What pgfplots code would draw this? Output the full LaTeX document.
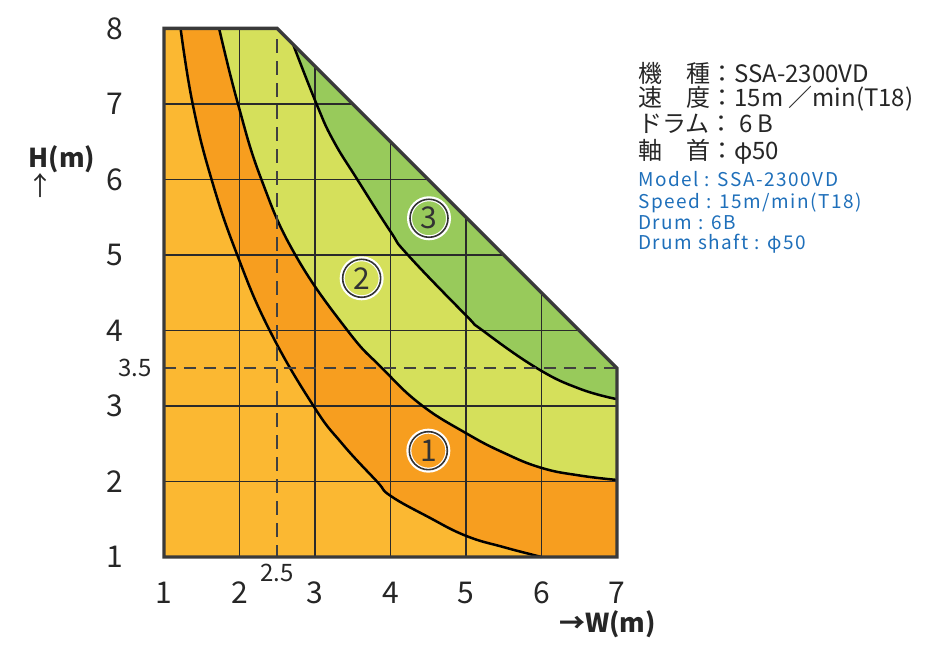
\documentclass[border=0pt]{standalone}
\usepackage{pgfplots}
\pgfplotsset{compat=1.18}
\usepackage{pgfplotstable}
\usepgfplotslibrary{fillbetween}
\usepackage{fontspec}
\setmainfont{Noto Sans CJK JP}
\newfontfamily\bluefont[LetterSpace=8]{Noto Sans CJK JP}
\definecolor{lorange}{HTML}{FBB832}
\definecolor{dorange}{HTML}{F79E1F}
\definecolor{ygreen}{HTML}{D5E05B}
\definecolor{green1}{HTML}{98CA5B}
\definecolor{gridc}{HTML}{2A2A2A}
\definecolor{outc}{HTML}{3A3A3A}
\definecolor{bluet}{HTML}{1E6FBA}

\pgfplotstableread{
x y
1.22 8
1.38 7
1.63 6
1.97 5
2.40 4
2.98 3
3.36 2.5
3.82 2.0
4.0 1.81
4.5 1.53
5.0 1.28
5.5 1.13
6.0 1.0
}\curveA
\pgfplotstableread{
x y
1.73 8
1.98 7
2.29 6
2.74 5
3.43 4
3.89 3.5
4.4 3.02
5.0 2.64
5.5 2.38
6.0 2.18
6.5 2.08
7.0 2.02
}\curveB
\pgfplotstableread{
x y
2.71 7.79
3.02 7.0
3.24 6.52
3.56 6.0
4.0 5.31
4.23 5.0
5.0 4.2
5.22 4.0
5.94 3.5
6.5 3.23
7.0 3.09
}\curveC

\begin{document}
\begin{tikzpicture}
\begin{axis}[
  set layers,
  scale only axis, width=226.5pt, height=264.25pt,
  xmin=1, xmax=7, ymin=1, ymax=8,
  clip=false, no markers,
  axis line style={draw=none},
  tick style={draw=none},
  xtick={1,...,7}, ytick={1,...,8},
  /pgf/number format/assume math mode=true,
  ticklabel style={font=\fontsize{15}{15}\selectfont, text=black!85},
  xticklabel style={anchor=center, yshift=-18pt},
  yticklabel style={anchor=center, xshift=-24.5pt},
]
% bounding box
\path (axis cs:-1.172,-0.046) rectangle (axis cs:11.397,8.377);

% base fill (below the fill-between layers)
\addplot[fill=lorange, draw=none, on layer=axis background] coordinates {(1,1)(1,8)(7,8)(7,1)} -- cycle;

% named paths
\addplot[name path=A, draw=none, smooth, tension=0.75] table {\curveA};
\addplot[name path=QA, draw=none] coordinates {(1.22,8)(7,8)(7,1)(6,1)};
\addplot[name path=B, draw=none, smooth, tension=0.75] table {\curveB};
\addplot[name path=QB, draw=none] coordinates {(1.73,8)(7,8)(7,2.02)};
\addplot[name path=C, draw=none, smooth, tension=0.75] table {\curveC};
\addplot[name path=QC, draw=none] coordinates {(2.71,7.79)(2.71,8)(7,8)(7,3.09)};

\addplot[dorange] fill between[of=A and QA, reverse=true];
\addplot[ygreen] fill between[of=B and QB, reverse=true];
\addplot[green1] fill between[of=C and QC, reverse=true];

% white outside the diagonal
\addplot[fill=white, draw=none] coordinates {(2.5,8.15)(2.5,8)(7,3.5)(7.15,3.5)(7.15,8.15)} -- cycle;

% grid
\addplot[gridc, line width=0.75pt] coordinates {(2,1)(2,8)};
\addplot[gridc, line width=0.75pt] coordinates {(3,1)(3,7.5)};
\addplot[gridc, line width=0.75pt] coordinates {(4,1)(4,6.5)};
\addplot[gridc, line width=0.75pt] coordinates {(5,1)(5,5.5)};
\addplot[gridc, line width=0.75pt] coordinates {(6,1)(6,4.5)};
\addplot[gridc, line width=0.75pt] coordinates {(1,2)(7,2)};
\addplot[gridc, line width=0.75pt] coordinates {(1,3)(7,3)};
\addplot[gridc, line width=0.75pt] coordinates {(1,4)(6.5,4)};
\addplot[gridc, line width=0.75pt] coordinates {(1,5)(5.5,5)};
\addplot[gridc, line width=0.75pt] coordinates {(1,6)(4.5,6)};
\addplot[gridc, line width=0.75pt] coordinates {(1,7)(3.5,7)};

% curves
\addplot[black, line width=1.25pt, smooth, tension=0.75] table {\curveA};
\addplot[black, line width=1.25pt, smooth, tension=0.75] table {\curveB};
\addplot[black, line width=1.25pt, smooth, tension=0.75] table {\curveC};

% dashed reference lines
\addplot[black!75, line width=0.8pt, dash pattern=on 6pt off 4pt] coordinates {(1,3.5)(7,3.5)};
\addplot[black!75, line width=0.8pt, dash pattern=on 7pt off 4pt] coordinates {(2.5,7.86)(2.5,1)};

% outline
\addplot[outc, line width=1.7pt, line join=miter] coordinates {(1,1)(1,8)(2.5,8)(7,3.5)(7,1)} -- cycle;

% extra labels
\node[font=\fontsize{12}{12}\selectfont, text=black!85] at (axis cs:0.616,3.5) {3.5};
\node[font=\fontsize{12}{12}\selectfont, text=black!85] at (axis cs:2.5,0.79) {2.5};
\node[font=\bfseries\fontsize{13}{13}\selectfont, text=black!85] at (axis cs:-0.351,6.27) {H(m)};
\node[font=\fontsize{13}{13}\selectfont, text=black!85] at (axis cs:-0.642,5.914) {↑};
\node[font=\bfseries\fontsize{13}{13}\selectfont, text=black!85] at (axis cs:6.874,0.113) {→W(m)};

% circled numbers
\node[circle, draw=white, line width=2.5pt, minimum size=19.5pt, inner sep=0pt] at (axis cs:4.501,2.408) {};
\node[circle, draw=black!80, line width=0.8pt, minimum size=19pt, inner sep=0pt, font=\fontsize{15}{15}\selectfont, text=black!80] at (axis cs:4.501,2.408) {1};
\node[circle, draw=white, line width=2.5pt, minimum size=19.5pt, inner sep=0pt] at (axis cs:3.618,4.691) {};
\node[circle, draw=black!80, line width=0.8pt, minimum size=19pt, inner sep=0pt, font=\fontsize{15}{15}\selectfont, text=black!80] at (axis cs:3.618,4.691) {2};
\node[circle, draw=white, line width=2.5pt, minimum size=19.5pt, inner sep=0pt] at (axis cs:4.51,5.486) {};
\node[circle, draw=black!80, line width=0.8pt, minimum size=19pt, inner sep=0pt, font=\fontsize{15}{15}\selectfont, text=black!80] at (axis cs:4.51,5.486) {3};

% spec text
\node[anchor=base west, inner sep=0pt, font=\fontsize{12}{12}\selectfont, text=black!85] at (axis cs:7.278,7.285) {機　種：SSA-2300VD};
\node[anchor=base west, inner sep=0pt, font=\fontsize{12}{12}\selectfont, text=black!85] at (axis cs:7.278,6.960) {速　度：15m ／min(T18)};
\node[anchor=base west, inner sep=0pt, font=\fontsize{12}{12}\selectfont, text=black!85] at (axis cs:7.278,6.616) {ドラム： 6 B};
\node[anchor=base west, inner sep=0pt, font=\fontsize{12}{12}\selectfont, text=black!85] at (axis cs:7.278,6.258) {軸　首：φ50};
\node[anchor=base west, inner sep=0pt, font=\bluefont\fontsize{9.5}{9.5}\selectfont, text=bluet] at (axis cs:7.278,5.905) {Model : SSA-2300VD};
\node[anchor=base west, inner sep=0pt, font=\bluefont\fontsize{9.5}{9.5}\selectfont, text=bluet] at (axis cs:7.278,5.619) {Speed : 15m/min(T18)};
\node[anchor=base west, inner sep=0pt, font=\bluefont\fontsize{9.5}{9.5}\selectfont, text=bluet] at (axis cs:7.278,5.331) {Drum : 6B};
\node[anchor=base west, inner sep=0pt, font=\bluefont\fontsize{9.5}{9.5}\selectfont, text=bluet] at (axis cs:7.278,5.066) {Drum shaft : φ50};
\end{axis}
\end{tikzpicture}
\end{document}
